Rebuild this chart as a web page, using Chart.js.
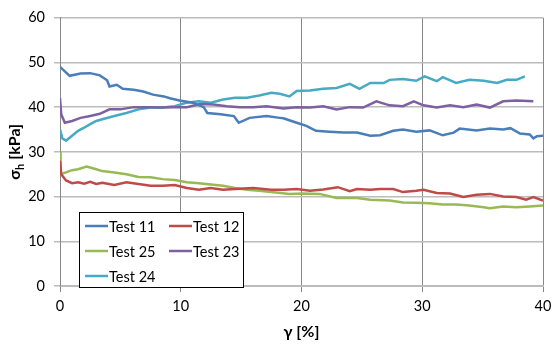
<!DOCTYPE html>
<html>
<head>
<meta charset="utf-8">
<script src="https://cdn.jsdelivr.net/npm/chart.js@4/dist/chart.umd.min.js"></script>
<style>
  html, body { margin: 0; padding: 0; background: #fff; }
  #wrap { position: relative; width: 553px; height: 344px; }
</style>
</head>
<body>
<div id="wrap"><canvas id="chart" width="553" height="344"></canvas></div>
<script>
// values (x = gamma %, y = sigma_h kPa)
const test11X = [0, 0.8, 1.7, 2.5, 3.3, 3.9, 4.1, 4.7, 5.2, 6.1, 6.9, 7.7, 8.6, 9.1, 9.9, 11, 11.9, 12.2, 13.3, 14.4, 14.8, 15.7, 17.1, 18.2, 18.5, 19.6, 20.4, 21.2, 22.3, 23.5, 24.6, 25.7, 26.5, 27.6, 28.4, 29.5, 30.6, 31.7, 32.6, 33.1, 34.5, 35.6, 36.7, 37.3, 38.1, 38.9, 39.2, 39.5, 40];
const test11Y = [49, 47, 47.5, 47.6, 47.1, 46, 44.6, 45, 44.1, 43.9, 43.5, 42.8, 42.4, 42, 41.5, 41, 40, 38.7, 38.4, 38, 36.5, 37.6, 38, 37.6, 37.5, 36.5, 35.8, 34.7, 34.5, 34.3, 34.3, 33.6, 33.7, 34.7, 35, 34.5, 34.8, 33.7, 34.3, 35.2, 34.8, 35.2, 35, 35.3, 34.1, 33.9, 33, 33.5, 33.6];

const test12X = [0, 0.1, 0.5, 1, 1.5, 2, 2.5, 3, 3.5, 4.5, 5.5, 6.5, 7.5, 8.5, 9.5, 10.5, 11.5, 12.5, 13.5, 14.5, 16, 17.5, 18.5, 19.6, 20.7, 21.8, 23, 24, 24.6, 25.7, 26.5, 27.6, 28.4, 29.5, 30.1, 31.2, 32.3, 33.4, 34.5, 35.6, 36.7, 37.8, 38.6, 39.2, 40];
const test12Y = [28, 25, 23.6, 23, 23.2, 22.9, 23.3, 22.8, 23.1, 22.6, 23.2, 22.8, 22.4, 22.4, 22.6, 21.9, 21.5, 21.9, 21.5, 21.7, 21.9, 21.5, 21.5, 21.7, 21.3, 21.6, 22.1, 21.2, 21.7, 21.5, 21.7, 21.7, 21, 21.3, 21.5, 20.8, 20.7, 19.9, 20.4, 20.6, 20, 19.9, 19.3, 19.9, 19.1];

const test25X = [0, 0.05, 0.5, 1, 1.5, 2.2, 2.5, 3, 3.5, 4.5, 5.5, 6.5, 7.5, 8.5, 9.5, 10.5, 11.5, 12.5, 13.5, 14.5, 15.5, 16.5, 17.5, 19, 20.1, 21.5, 22.9, 24.6, 25.7, 27.3, 28.4, 29.5, 30.6, 31.7, 32.8, 33.9, 35.1, 35.6, 36.7, 37.8, 38.9, 40];
const test25Y = [30, 25, 25.4, 25.9, 26.1, 26.7, 26.5, 26.1, 25.7, 25.4, 25, 24.4, 24.3, 23.9, 23.7, 23.2, 23, 22.7, 22.4, 21.9, 21.5, 21.3, 21, 20.6, 20.7, 20.6, 19.7, 19.7, 19.3, 19.1, 18.7, 18.6, 18.5, 18.2, 18.2, 18, 17.6, 17.4, 17.8, 17.6, 17.8, 18];

const test23X = [0, 0.1, 0.4, 1, 1.7, 2.5, 3.3, 4.1, 5, 6.1, 7.2, 8.3, 9.4, 10.5, 11.6, 12.7, 13.8, 14.9, 16, 17.1, 18.5, 19.6, 20.7, 21.8, 22.9, 24, 25.1, 26.2, 27.3, 28.4, 29.3, 30.1, 31.2, 32.3, 33.4, 34.5, 35.6, 36.7, 37.8, 39.2];
const test23Y = [42, 38.4, 36.5, 36.9, 37.6, 38, 38.5, 39.5, 39.5, 40, 40, 39.9, 40, 40, 40.7, 40.6, 40.2, 40, 40, 40.2, 39.7, 40, 39.9, 40.2, 39.5, 40, 39.9, 41.3, 40.4, 40.2, 41.3, 40.4, 39.9, 40.4, 40, 40.6, 39.9, 41.3, 41.5, 41.3];

const test24X = [0, 0.2, 0.5, 1, 1.5, 2, 2.5, 3, 3.5, 4.5, 5.5, 6.5, 7.5, 8.5, 9.5, 10.5, 11.5, 12.5, 13.5, 14.5, 15.5, 16.5, 17.5, 18.2, 19, 19.6, 20.7, 21.8, 22.9, 24, 24.8, 25.7, 26.8, 27.3, 28.4, 29.5, 30.2, 31.2, 31.7, 32.8, 33.9, 35.1, 36.2, 37, 37.8, 38.5];
const test24Y = [35, 33, 32.5, 33.6, 34.7, 35.4, 36.2, 36.9, 37.3, 38, 38.7, 39.5, 39.9, 39.9, 40.2, 41, 41.3, 41, 41.7, 42.1, 42.1, 42.6, 43.2, 43, 42.4, 43.6, 43.7, 44.1, 44.3, 45.2, 44.1, 45.4, 45.4, 46.1, 46.3, 45.9, 46.9, 45.8, 46.7, 45.4, 46.1, 45.9, 45.4, 46.1, 46.1, 46.9];

const xTicks = [0, 10, 20, 30, 40];
const yTicks = [0, 10, 20, 30, 40, 50, 60];

const FONT = 'Lato, "Open Sans", sans-serif';

function pts(xs, ys) {
  return xs.map((x, i) => ({ x, y: ys[i] }));
}

function line(label, xs, ys, color) {
  return {
    label,
    data: pts(xs, ys),
    borderColor: color,
    backgroundColor: color,
    borderWidth: 2.5,
    pointRadius: 0,
    tension: 0,
    fill: false,
  };
}

// y title with real subscript h
const yTitlePlugin = {
  id: 'yTitle',
  afterDraw(chart) {
    const ctx = chart.ctx;
    const area = chart.chartArea;
    ctx.save();
    ctx.translate(15, (area.top + area.bottom) / 2);
    ctx.rotate(-Math.PI / 2);
    ctx.fillStyle = '#000';
    ctx.textBaseline = 'middle';
    const big = 'bold 16px ' + FONT;
    const small = 'bold 11px ' + FONT;
    ctx.font = big;
    const w1 = ctx.measureText('σ').width;
    const w3 = ctx.measureText(' [kPa]').width;
    ctx.font = small;
    const w2 = ctx.measureText('h').width;
    let x = -(w1 + w2 + w3) / 2;
    ctx.font = big;
    ctx.textAlign = 'left';
    ctx.fillText('σ', x, 0);
    x += w1;
    ctx.font = small;
    ctx.fillText('h', x, 5);
    x += w2;
    ctx.font = big;
    ctx.fillText(' [kPa]', x, 0);
    ctx.restore();
  }
};

// boxed legend inside the plot, lower left
const boxLegendPlugin = {
  id: 'boxLegend',
  afterDraw(chart) {
    const ctx = chart.ctx;
    const ds = chart.data.datasets;
    const left = 79, top = 212, w = 164, h = 75;
    ctx.save();
    ctx.fillStyle = '#fff';
    ctx.fillRect(left, top, w, h);
    ctx.strokeStyle = '#000';
    ctx.lineWidth = 1;
    ctx.strokeRect(left + 0.5, top + 0.5, w, h);
    ctx.font = '14.5px ' + FONT;
    ctx.textBaseline = 'middle';
    ctx.fillStyle = '#000';
    ds.forEach((d, i) => {
      const col = i % 2, row = Math.floor(i / 2);
      const lx = left + 6 + col * 84;
      const ly = top + 14 + row * 25;
      ctx.strokeStyle = d.borderColor;
      ctx.lineWidth = 2.5;
      ctx.beginPath();
      ctx.moveTo(lx, ly);
      ctx.lineTo(lx + 23, ly);
      ctx.stroke();
      ctx.fillText(d.label, lx + 24, ly + 1);
    });
    ctx.restore();
  }
};

new Chart(document.getElementById('chart'), {
  type: 'line',
  data: {
    datasets: [
      line('Test 11', test11X, test11Y, '#4A7EBB'),
      line('Test 12', test12X, test12Y, '#BE4B48'),
      line('Test 25', test25X, test25Y, '#98B954'),
      line('Test 23', test23X, test23Y, '#7D60A0'),
      line('Test 24', test24X, test24Y, '#46AAC5'),
    ],
  },
  options: {
    responsive: false,
    animation: false,
    devicePixelRatio: 1,
    layout: { padding: { top: 13, right: 0, left: 0, bottom: 0 } },
    plugins: {
      legend: { display: false },
      tooltip: { enabled: false },
    },
    scales: {
      x: {
        type: 'linear',
        min: 0,
        max: 40,
        afterBuildTicks: s => { s.ticks = xTicks.map(v => ({ value: v })); },
        afterFit: s => { s.height = 58; s.paddingRight = 10; },
        grid: { color: '#878787', tickLength: 6, lineWidth: 1 },
        border: { color: '#bcbcbc', width: 2 },
        ticks: { color: '#000', padding: 6, font: { family: FONT, size: 14.5 } },
        title: {
          display: true,
          text: 'γ [%]',
          color: '#000',
          font: { family: FONT, size: 16, weight: 'bold' },
          padding: { top: 4, bottom: 3 },
        },
      },
      y: {
        min: 0,
        max: 60,
        afterBuildTicks: s => { s.ticks = yTicks.map(v => ({ value: v })); },
        afterFit: s => { s.width = 60; },
        grid: { color: '#bcbcbc', tickLength: 6, lineWidth: 1.5 },
        border: { color: '#878787', width: 1 },
        ticks: { color: '#000', padding: 9, font: { family: FONT, size: 14.5 } },
      },
    },
  },
  plugins: [yTitlePlugin, boxLegendPlugin],
});
</script>
</body>
</html>
